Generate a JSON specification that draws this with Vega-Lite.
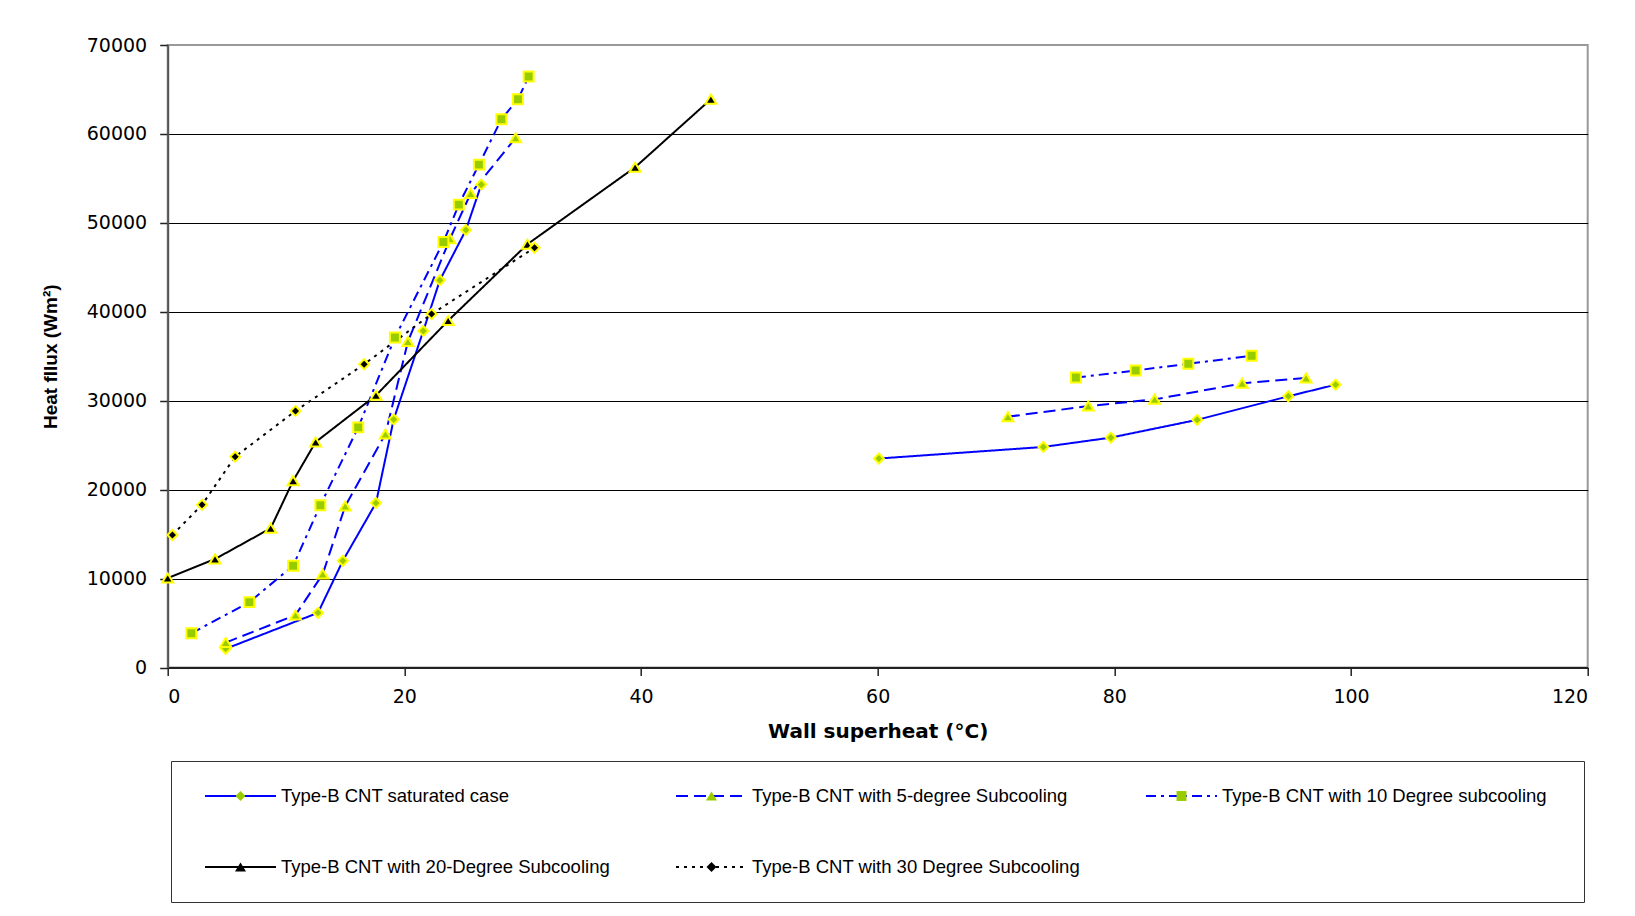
{
  "$schema": "https://vega.github.io/schema/vega-lite/v6.json",
  "width": 1420,
  "height": 622.5,
  "autosize": {"type": "none"},
  "padding": {"left": 167.7, "top": 45, "right": 47.3, "bottom": 248.5},
  "background": "white",
  "config": {
    "view": {"stroke": "#999999", "strokeWidth": 2},
    "font": "Liberation Sans"
  },
  "data": {
    "values": [
      {"s": "Type-B CNT saturated case", "seg": 1, "x": 4.9, "y": 2100},
      {"s": "Type-B CNT saturated case", "seg": 1, "x": 12.7, "y": 6150},
      {"s": "Type-B CNT saturated case", "seg": 1, "x": 14.8, "y": 12000},
      {"s": "Type-B CNT saturated case", "seg": 1, "x": 17.6, "y": 18500},
      {"s": "Type-B CNT saturated case", "seg": 1, "x": 19.1, "y": 27900},
      {"s": "Type-B CNT saturated case", "seg": 1, "x": 21.6, "y": 37850},
      {"s": "Type-B CNT saturated case", "seg": 1, "x": 23.0, "y": 43550},
      {"s": "Type-B CNT saturated case", "seg": 1, "x": 25.2, "y": 49200},
      {"s": "Type-B CNT saturated case", "seg": 1, "x": 26.5, "y": 54300},
      {"s": "Type-B CNT saturated case", "seg": 2, "x": 60.1, "y": 23500},
      {"s": "Type-B CNT saturated case", "seg": 2, "x": 74.0, "y": 24800},
      {"s": "Type-B CNT saturated case", "seg": 2, "x": 79.7, "y": 25850},
      {"s": "Type-B CNT saturated case", "seg": 2, "x": 87.0, "y": 27850},
      {"s": "Type-B CNT saturated case", "seg": 2, "x": 94.7, "y": 30500},
      {"s": "Type-B CNT saturated case", "seg": 2, "x": 98.7, "y": 31800},
      {"s": "Type-B CNT with 5-degree Subcooling", "seg": 1, "x": 4.9, "y": 2800},
      {"s": "Type-B CNT with 5-degree Subcooling", "seg": 1, "x": 10.8, "y": 5900},
      {"s": "Type-B CNT with 5-degree Subcooling", "seg": 1, "x": 13.1, "y": 10500},
      {"s": "Type-B CNT with 5-degree Subcooling", "seg": 1, "x": 15.0, "y": 18150},
      {"s": "Type-B CNT with 5-degree Subcooling", "seg": 1, "x": 18.4, "y": 26250},
      {"s": "Type-B CNT with 5-degree Subcooling", "seg": 1, "x": 20.3, "y": 36650},
      {"s": "Type-B CNT with 5-degree Subcooling", "seg": 1, "x": 23.85, "y": 48200},
      {"s": "Type-B CNT with 5-degree Subcooling", "seg": 1, "x": 25.6, "y": 53300},
      {"s": "Type-B CNT with 5-degree Subcooling", "seg": 1, "x": 29.4, "y": 59550},
      {"s": "Type-B CNT with 5-degree Subcooling", "seg": 2, "x": 71.0, "y": 28200},
      {"s": "Type-B CNT with 5-degree Subcooling", "seg": 2, "x": 77.8, "y": 29400},
      {"s": "Type-B CNT with 5-degree Subcooling", "seg": 2, "x": 83.4, "y": 30150},
      {"s": "Type-B CNT with 5-degree Subcooling", "seg": 2, "x": 90.8, "y": 31950},
      {"s": "Type-B CNT with 5-degree Subcooling", "seg": 2, "x": 96.2, "y": 32550},
      {"s": "Type-B CNT with 10 Degree subcooling", "seg": 1, "x": 2.0, "y": 3850},
      {"s": "Type-B CNT with 10 Degree subcooling", "seg": 1, "x": 6.9, "y": 7350},
      {"s": "Type-B CNT with 10 Degree subcooling", "seg": 1, "x": 10.6, "y": 11450},
      {"s": "Type-B CNT with 10 Degree subcooling", "seg": 1, "x": 12.9, "y": 18250},
      {"s": "Type-B CNT with 10 Degree subcooling", "seg": 1, "x": 16.1, "y": 27000},
      {"s": "Type-B CNT with 10 Degree subcooling", "seg": 1, "x": 19.2, "y": 37100},
      {"s": "Type-B CNT with 10 Degree subcooling", "seg": 1, "x": 23.3, "y": 47850},
      {"s": "Type-B CNT with 10 Degree subcooling", "seg": 1, "x": 24.6, "y": 52050},
      {"s": "Type-B CNT with 10 Degree subcooling", "seg": 1, "x": 26.3, "y": 56550},
      {"s": "Type-B CNT with 10 Degree subcooling", "seg": 1, "x": 28.2, "y": 61650},
      {"s": "Type-B CNT with 10 Degree subcooling", "seg": 1, "x": 29.6, "y": 63900},
      {"s": "Type-B CNT with 10 Degree subcooling", "seg": 1, "x": 30.5, "y": 66450},
      {"s": "Type-B CNT with 10 Degree subcooling", "seg": 2, "x": 76.75, "y": 32600},
      {"s": "Type-B CNT with 10 Degree subcooling", "seg": 2, "x": 81.8, "y": 33400},
      {"s": "Type-B CNT with 10 Degree subcooling", "seg": 2, "x": 86.25, "y": 34150},
      {"s": "Type-B CNT with 10 Degree subcooling", "seg": 2, "x": 91.6, "y": 35050},
      {"s": "Type-B CNT with 20-Degree Subcooling", "seg": 1, "x": 0.0, "y": 10050},
      {"s": "Type-B CNT with 20-Degree Subcooling", "seg": 1, "x": 4.0, "y": 12200},
      {"s": "Type-B CNT with 20-Degree Subcooling", "seg": 1, "x": 8.7, "y": 15650},
      {"s": "Type-B CNT with 20-Degree Subcooling", "seg": 1, "x": 10.6, "y": 21000},
      {"s": "Type-B CNT with 20-Degree Subcooling", "seg": 1, "x": 12.5, "y": 25350},
      {"s": "Type-B CNT with 20-Degree Subcooling", "seg": 1, "x": 17.6, "y": 30600},
      {"s": "Type-B CNT with 20-Degree Subcooling", "seg": 1, "x": 23.7, "y": 39000},
      {"s": "Type-B CNT with 20-Degree Subcooling", "seg": 1, "x": 30.4, "y": 47600},
      {"s": "Type-B CNT with 20-Degree Subcooling", "seg": 1, "x": 39.5, "y": 56250},
      {"s": "Type-B CNT with 20-Degree Subcooling", "seg": 1, "x": 45.9, "y": 63900},
      {"s": "Type-B CNT with 30 Degree Subcooling", "seg": 1, "x": 0.4, "y": 14900},
      {"s": "Type-B CNT with 30 Degree Subcooling", "seg": 1, "x": 2.9, "y": 18300},
      {"s": "Type-B CNT with 30 Degree Subcooling", "seg": 1, "x": 5.7, "y": 23700},
      {"s": "Type-B CNT with 30 Degree Subcooling", "seg": 1, "x": 10.8, "y": 28850},
      {"s": "Type-B CNT with 30 Degree Subcooling", "seg": 1, "x": 16.6, "y": 34100},
      {"s": "Type-B CNT with 30 Degree Subcooling", "seg": 1, "x": 22.3, "y": 39750},
      {"s": "Type-B CNT with 30 Degree Subcooling", "seg": 1, "x": 31.0, "y": 47200}
    ]
  },
  "encoding": {
    "x": {
      "field": "x", "type": "quantitative",
      "scale": {"domain": [0, 120], "nice": false, "zero": false},
      "axis": {
        "values": [0, 20, 40, 60, 80, 100, 120],
        "grid": false,
        "domainColor": "#222222", "domainWidth": 2,
        "tickColor": "#222222", "tickSize": 8, "tickWidth": 1.5,
        "labelFont": "DejaVu Sans", "labelFontSize": 19, "labelColor": "#000000", "labelPadding": 12,
        "title": "Wall superheat (°C)",
        "titleFont": "DejaVu Sans", "titleFontSize": 20, "titleFontWeight": "bold", "titleColor": "#000000", "titlePadding": 15
      }
    },
    "y": {
      "field": "y", "type": "quantitative",
      "scale": {"domain": [0, 70000], "nice": false, "zero": true},
      "axis": {
        "values": [0, 10000, 20000, 30000, 40000, 50000, 60000, 70000],
        "format": "d",
        "grid": true,
        "gridColor": {"condition": {"test": "datum.value === 70000", "value": "transparent"}, "value": "#000000"},
        "gridWidth": 1.2,
        "domainColor": "#555555", "domainWidth": 2,
        "tickColor": "#222222", "tickSize": 8, "tickWidth": 1.5,
        "labelFont": "DejaVu Sans", "labelFontSize": 19, "labelColor": "#000000", "labelPadding": 13,
        "title": "Heat fllux (Wm²)",
        "titleFont": "Liberation Sans", "titleFontSize": 19, "titleFontWeight": "bold", "titleColor": "#000000", "titlePadding": 26
      }
    }
  },
  "layer": [
    {
      "mark": {"type": "line", "strokeWidth": 2},
      "encoding": {
        "detail": {"field": "seg"},
        "color": {
          "field": "s", "type": "nominal",
          "scale": {
            "domain": ["Type-B CNT saturated case", "Type-B CNT with 20-Degree Subcooling", "Type-B CNT with 5-degree Subcooling", "Type-B CNT with 30 Degree Subcooling", "Type-B CNT with 10 Degree subcooling"],
            "range": ["#0000FF", "#000000", "#0000FF", "#000000", "#0000FF"]
          },
          "legend": {
            "orient": "none", "legendX": 3.3, "legendY": 716,
            "title": null, "columns": 3,
            "symbolType": "stroke", "symbolSize": 5041, "symbolStrokeWidth": 2, "symbolOffset": 10,
            "clipHeight": 24,
            "labelFont": "Liberation Sans", "labelFontSize": 18.5, "labelColor": "#000000", "labelOffset": 4, "labelLimit": 0,
            "labelExpr": "datum.value === 'Type-B CNT with 10 Degree subcooling' ? datum.label + '\u2800' : datum.label",
            "columnPadding": 54, "rowPadding": 47, "padding": 23,
            "strokeColor": "#333333"
          }
        },
        "strokeDash": {
          "field": "s", "type": "nominal",
          "scale": {
            "domain": ["Type-B CNT saturated case", "Type-B CNT with 20-Degree Subcooling", "Type-B CNT with 5-degree Subcooling", "Type-B CNT with 30 Degree Subcooling", "Type-B CNT with 10 Degree subcooling"],
            "range": [[1, 0], [1, 0], [12, 6], [3, 5], [10, 5, 3, 5]]
          }
        }
      }
    },
    {
      "mark": {"type": "point", "filled": true, "stroke": "#FFFF00", "strokeWidth": 2, "size": 5041, "opacity": 1},
      "encoding": {
        "shape": {
          "field": "s", "type": "nominal",
          "scale": {
            "domain": ["Type-B CNT saturated case", "Type-B CNT with 20-Degree Subcooling", "Type-B CNT with 5-degree Subcooling", "Type-B CNT with 30 Degree Subcooling", "Type-B CNT with 10 Degree subcooling"],
            "range": [
              "M0,-0.14L0.14,0L0,0.14L-0.14,0Z",
              "M0,-0.13L0.155,0.125L-0.155,0.125Z",
              "M0,-0.13L0.155,0.125L-0.155,0.125Z",
              "M0,-0.14L0.14,0L0,0.14L-0.14,0Z",
              "M-0.14,-0.14H0.14V0.14H-0.14Z"
            ]
          },
          "legend": {
            "orient": "none", "legendX": 3.3, "legendY": 716,
            "title": null, "columns": 3,
            "symbolSize": 5041, "symbolStrokeWidth": 2, "symbolStrokeColor": "#FFFF00", "symbolOffset": 10,
            "clipHeight": 24,
            "labelFont": "Liberation Sans", "labelFontSize": 18.5, "labelOpacity": 0, "labelOffset": 4, "labelLimit": 0,
            "labelExpr": "datum.value === 'Type-B CNT with 10 Degree subcooling' ? datum.label + '\u2800' : datum.label",
            "columnPadding": 54, "rowPadding": 47, "padding": 23
          }
        },
        "fill": {
          "field": "s", "type": "nominal",
          "scale": {
            "domain": ["Type-B CNT saturated case", "Type-B CNT with 20-Degree Subcooling", "Type-B CNT with 5-degree Subcooling", "Type-B CNT with 30 Degree Subcooling", "Type-B CNT with 10 Degree subcooling"],
            "range": ["#99CC00", "#000000", "#99CC00", "#000000", "#99CC00"]
          }
        }
      }
    }
  ],
  "resolve": {"scale": {"shape": "independent", "fill": "independent"}}
}
